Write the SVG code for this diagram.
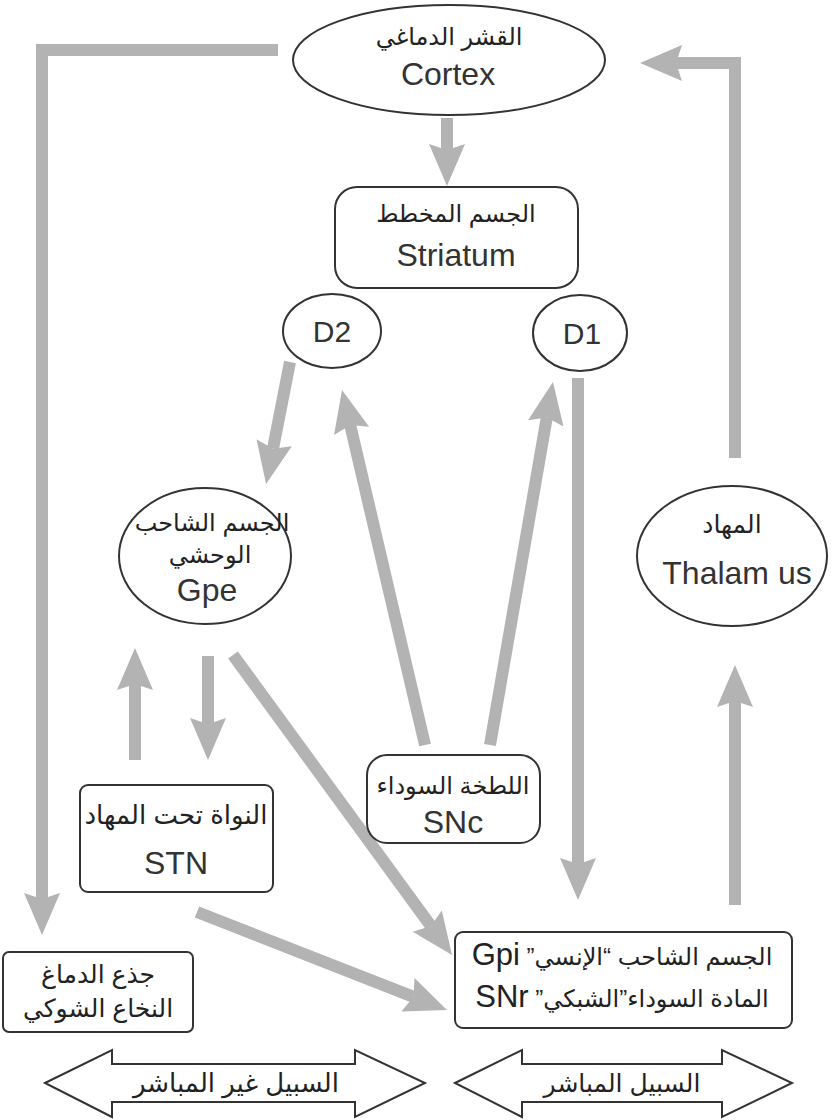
<svg xmlns="http://www.w3.org/2000/svg" width="835" height="1120" viewBox="0 0 835 1120">
<style>
.node{fill:#fff;stroke:#333;stroke-width:2}
.conn{fill:none;stroke:#b3b3b3;stroke-width:12;stroke-linejoin:miter;stroke-linecap:butt}
.en{font-family:"Liberation Sans","DejaVu Sans",sans-serif;font-size:32px;fill:#333;text-anchor:middle}
.ar{font-family:"Liberation Sans","DejaVu Sans",sans-serif;font-size:25px;fill:#222;text-anchor:middle;direction:rtl}
.lat{font-family:"Liberation Sans",sans-serif;font-size:31px}
.big{fill:#fff;stroke:#333;stroke-width:2}
</style>
<defs>
<marker id="ah" markerUnits="userSpaceOnUse" viewBox="0 -20 44 40" refX="6" refY="0" markerWidth="44" markerHeight="40" orient="auto">
<path d="M0,-18 L42,0 L0,18 L6,0 Z" fill="#b3b3b3"/>
</marker>
</defs>
<g id="connectors">
<path class="conn" d="M447,118 V150" marker-end="url(#ah)"/>
<path class="conn" d="M278,50 H42 V899" marker-end="url(#ah)"/>
<path class="conn" d="M735,458 V63 H676" marker-end="url(#ah)"/>
<path class="conn" d="M735,905 V701" marker-end="url(#ah)"/>
<path class="conn" d="M578,378 V864" marker-end="url(#ah)"/>
<path class="conn" d="M290,362 L273,448.7" marker-end="url(#ah)"/>
<path class="conn" d="M425,745 L350.2,425" marker-end="url(#ah)"/>
<path class="conn" d="M490,745 L546.8,417.5" marker-end="url(#ah)"/>
<path class="conn" d="M135,760 V684" marker-end="url(#ah)"/>
<path class="conn" d="M208,656 V724" marker-end="url(#ah)"/>
<path class="conn" d="M233,655 L430.8,925.9" marker-end="url(#ah)"/>
<path class="conn" d="M197,912 L413.5,996.9" marker-end="url(#ah)"/>
</g>
<g id="cortex">
<ellipse class="node" cx="449" cy="60" rx="156" ry="55"/>
<text class="ar" x="449" y="45" style="font-size:24px">القشر الدماغي</text>
<text class="en" x="448" y="85">Cortex</text>
</g>
<g id="striatum">
<rect class="node" x="335" y="187" width="243" height="101" rx="22"/>
<text class="ar" x="456" y="222" style="font-size:24px">الجسم المخطط</text>
<text class="en" x="456" y="266">Striatum</text>
</g>
<g id="d2">
<ellipse class="node" cx="332" cy="331" rx="49" ry="37"/>
<text class="en" x="332" y="342" style="font-size:30px">D2</text>
</g>
<g id="d1">
<ellipse class="node" cx="580" cy="333" rx="47" ry="38"/>
<text class="en" x="582" y="344" style="font-size:30px">D1</text>
</g>
<g id="gpe">
<ellipse class="node" cx="205" cy="556" rx="86" ry="68"/>
<text class="ar" x="212" y="531" style="font-size:24px">الجسم الشاحب</text>
<text class="ar" x="210" y="563" style="font-size:24px">الوحشي</text>
<text class="en" x="207" y="601">Gpe</text>
</g>
<g id="thalamus">
<ellipse class="node" cx="732" cy="556" rx="95" ry="70"/>
<text class="ar" x="732" y="533">المهاد</text>
<text class="en" x="737" y="584">Thalam us</text>
</g>
<g id="stn">
<rect class="node" x="80" y="785" width="193" height="107" rx="8"/>
<text class="ar" x="176" y="824" style="font-size:26px">النواة تحت المهاد</text>
<text class="en" x="176" y="874">STN</text>
</g>
<g id="snc">
<rect class="node" x="367" y="755" width="173" height="88" rx="20"/>
<text class="ar" x="453" y="794" style="font-size:24px">اللطخة السوداء</text>
<text class="en" x="453" y="833">SNc</text>
</g>
<g id="gpi">
<rect class="node" x="455" y="932" width="337" height="96" rx="8"/>
<text class="ar" x="622" y="965" style="font-size:24px">الجسم الشاحب “الإنسي” <tspan class="lat">Gpi</tspan></text>
<text class="ar" x="622" y="1007" style="font-size:24px">المادة السوداء”الشبكي” <tspan class="lat">SNr</tspan></text>
</g>
<g id="brainstem">
<rect class="node" x="3" y="952" width="190" height="80" rx="6"/>
<text class="ar" x="98" y="983">جذع الدماغ</text>
<text class="ar" x="98" y="1017">النخاع الشوكي</text>
</g>
<g id="indirect">
<polygon class="big" points="45,1083 112,1050 112,1064 355,1064 355,1050 425,1083 355,1117 355,1102 112,1102 112,1117"/>
<text class="ar" x="236" y="1092" style="font-size:26px">السبيل غير المباشر</text>
</g>
<g id="direct">
<polygon class="big" points="455,1083 522,1050 522,1064 722,1064 722,1050 792,1083 722,1117 722,1102 522,1102 522,1117"/>
<text class="ar" x="622" y="1092">السبيل المباشر</text>
</g>
</svg>
